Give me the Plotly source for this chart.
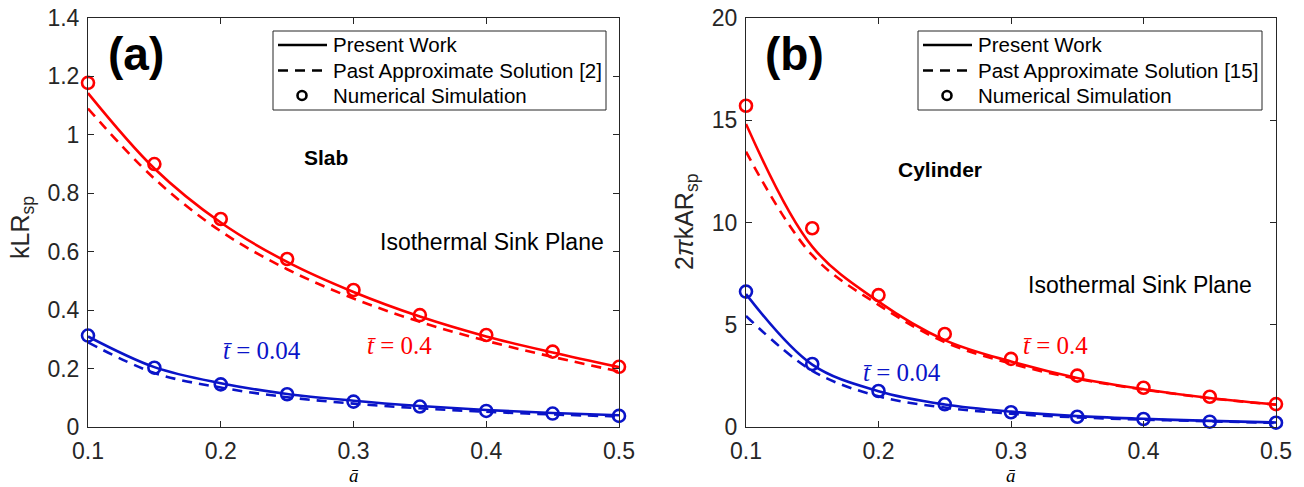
import plotly.graph_objects as go

# ---- data -------------------------------------------------------------
a_bar = [0.1, 0.15, 0.2, 0.25, 0.3, 0.35, 0.4, 0.45, 0.5]

# (a) Slab
slab_sim_t04 = [1.178, 0.900, 0.712, 0.575, 0.469, 0.383, 0.315, 0.258, 0.206]
slab_present_t04 = [1.143, 0.885, 0.700, 0.565, 0.462, 0.378, 0.310, 0.255, 0.205]
slab_past_t04 = [1.090, 0.850, 0.670, 0.540, 0.440, 0.360, 0.295, 0.240, 0.190]

slab_sim_t004 = [0.313, 0.203, 0.146, 0.112, 0.087, 0.070, 0.055, 0.046, 0.038]
slab_present_t004 = [0.310, 0.205, 0.150, 0.113, 0.090, 0.072, 0.058, 0.048, 0.040]
slab_past_t004 = [0.290, 0.185, 0.135, 0.102, 0.080, 0.064, 0.052, 0.043, 0.036]

# (b) Cylinder
cyl_sim_t04 = [15.71, 9.72, 6.45, 4.55, 3.33, 2.51, 1.92, 1.48, 1.12]
cyl_present_t04 = [14.82, 8.82, 6.13, 4.25, 3.20, 2.40, 1.85, 1.42, 1.10]
cyl_past_t04 = [13.46, 8.40, 5.97, 4.15, 3.10, 2.36, 1.83, 1.41, 1.09]

cyl_sim_t004 = [6.62, 3.08, 1.76, 1.11, 0.72, 0.50, 0.39, 0.26, 0.21]
cyl_present_t004 = [6.50, 3.05, 1.75, 1.10, 0.75, 0.53, 0.40, 0.30, 0.22]
cyl_past_t004 = [5.43, 2.75, 1.50, 0.95, 0.65, 0.47, 0.36, 0.28, 0.20]

x_ticks = [0.1, 0.2, 0.3, 0.4, 0.5]
slab_y_ticks = [0, 0.2, 0.4, 0.6, 0.8, 1, 1.2, 1.4]
cyl_y_ticks = [0, 5, 10, 15, 20]

legend_labels_a = ["Present Work", "Past Approximate Solution [2]", "Numerical Simulation"]
legend_labels_b = ["Present Work", "Past Approximate Solution [15]", "Numerical Simulation"]

# ---- style ------------------------------------------------------------
W, H = 1304, 487
RED = "#ff0000"
BLUE = "#0a14c8"
AX = "#262626"
SANS = "Liberation Sans, Arial, sans-serif"
SERIF = "Liberation Serif, DejaVu Serif, serif"
LW = 2.6
DASH = "10px,7px"


def px(x):
    return x / W


def py(y):
    return 1 - y / H


fig = go.Figure()


def add_group(xa, ya, sim, present, past, color):
    fig.add_trace(go.Scatter(x=a_bar, y=present, mode="lines", xaxis=xa, yaxis=ya,
                             line=dict(color=color, width=LW, shape="spline", smoothing=1.0),
                             showlegend=False, hoverinfo="skip"))
    fig.add_trace(go.Scatter(x=a_bar, y=past, mode="lines", xaxis=xa, yaxis=ya,
                             line=dict(color=color, width=LW, dash=DASH, shape="spline",
                                       smoothing=1.0),
                             showlegend=False, hoverinfo="skip"))
    fig.add_trace(go.Scatter(x=a_bar, y=sim, mode="markers", xaxis=xa, yaxis=ya,
                             marker=dict(symbol="circle-open", size=12, color=color,
                                         line=dict(width=2.6, color=color)),
                             cliponaxis=False, showlegend=False, hoverinfo="skip"))


add_group("x", "y", slab_sim_t04, slab_present_t04, slab_past_t04, RED)
add_group("x", "y", slab_sim_t004, slab_present_t004, slab_past_t004, BLUE)
add_group("x2", "y2", cyl_sim_t04, cyl_present_t04, cyl_past_t04, RED)
add_group("x2", "y2", cyl_sim_t004, cyl_present_t004, cyl_past_t004, BLUE)

axis_common = dict(showline=True, linecolor=AX, linewidth=1, mirror="ticks",
                   ticks="inside", ticklen=6, tickcolor=AX, showgrid=False,
                   zeroline=False, automargin=False, ticklabelstandoff=3,
                   tickfont=dict(family=SANS, size=23, color=AX))

fig.update_layout(
    width=W, height=H, margin=dict(l=0, r=0, t=0, b=0), showlegend=False,
    plot_bgcolor="white", paper_bgcolor="white",
    xaxis=dict(domain=[px(88), px(619)], range=[0.1, 0.5], tickvals=x_ticks, anchor="y",
               **axis_common),
    yaxis=dict(domain=[py(427), py(18)], range=[0, 1.4], tickvals=slab_y_ticks, anchor="x",
               **axis_common),
    xaxis2=dict(domain=[px(746), px(1276)], range=[0.1, 0.5], tickvals=x_ticks, anchor="y2",
                **axis_common),
    yaxis2=dict(domain=[py(427), py(18)], range=[0, 20], tickvals=cyl_y_ticks, anchor="x2",
                **axis_common),
)


def label(x, y, text, size=18, color="black", family=SANS, angle=0, xanchor="center"):
    fig.add_annotation(x=px(x), y=py(y), xref="paper", yref="paper", text=text,
                       showarrow=False, textangle=angle, xanchor=xanchor, yanchor="middle",
                       font=dict(family=family, size=size, color=color))


def legend_box(left, right, labels):
    """Boxed key with black samples for the three series styles."""
    top, bottom = 31, 110
    rows = [45, 70.5, 95.5]
    fig.add_shape(type="rect", xref="paper", yref="paper",
                  x0=px(left), x1=px(right), y0=py(bottom), y1=py(top),
                  line=dict(color=AX, width=1), fillcolor="white", layer="above")
    s0, s1 = left + 5, left + 54
    fig.add_shape(type="line", xref="paper", yref="paper", x0=px(s0), x1=px(s1),
                  y0=py(rows[0]), y1=py(rows[0]), line=dict(color="black", width=LW),
                  layer="above")
    fig.add_shape(type="line", xref="paper", yref="paper", x0=px(s0), x1=px(s1),
                  y0=py(rows[1]), y1=py(rows[1]),
                  line=dict(color="black", width=LW, dash=DASH), layer="above")
    cx, r = left + 29, 4.5
    fig.add_shape(type="circle", xref="paper", yref="paper", x0=px(cx - r), x1=px(cx + r),
                  y0=py(rows[2] + r), y1=py(rows[2] - r),
                  line=dict(color="black", width=2.6), layer="above")
    for yy, txt in zip(rows, labels):
        label(left + 58, yy, txt, size=20.5, xanchor="left")


legend_box(273, 606, legend_labels_a)
legend_box(918, 1262, legend_labels_b)

# panel tags and captions
label(136, 54, "<b>(a)</b>", size=46)
label(794, 54, "<b>(b)</b>", size=46)
label(326, 157, "<b>Slab</b>", size=21)
label(940, 170, "<b>Cylinder</b>", size=21)
label(492, 242, "Isothermal Sink Plane", size=23)
label(1140, 285, "Isothermal Sink Plane", size=23)

# curve labels
label(262, 350, "<i>t̄</i> = 0.04", size=25, color=BLUE, family=SERIF)
label(399, 345, "<i>t̄</i> = 0.4", size=25, color=RED, family=SERIF)
label(902, 372, "<i>t̄</i> = 0.04", size=25, color=BLUE, family=SERIF)
label(1055, 345, "<i>t̄</i> = 0.4", size=25, color=RED, family=SERIF)

# axis titles
label(354, 475, "<i>ā</i>", size=19, family=SERIF)
label(1011, 475, "<i>ā</i>", size=19, family=SERIF)
label(22, 228, "kLR<sub>sp</sub>", size=25, color=AX, angle=-90)
label(686, 222, "2<i>π</i>kAR<sub>sp</sub>", size=25, color=AX, angle=-90)

fig.write_html("out.html")
